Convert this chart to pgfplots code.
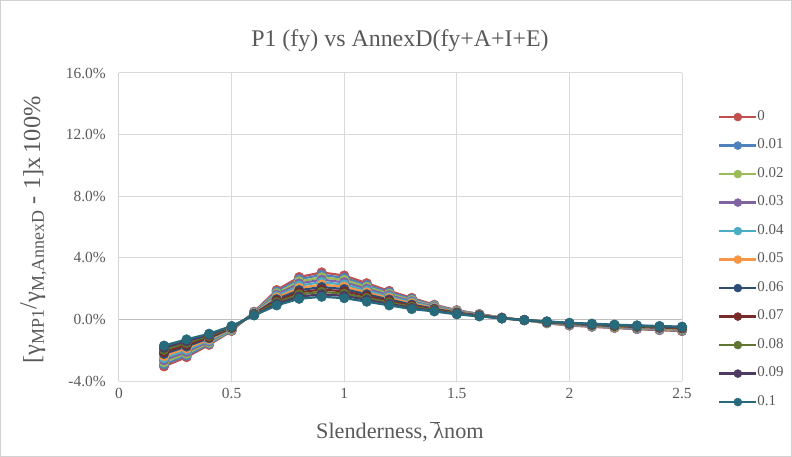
\documentclass[border=0pt]{standalone}
\usepackage{pgfplots}
\pgfplotsset{compat=1.18}
\usepackage{pgfplotstable}
\usepackage{fontspec}
\setmainfont{Liberation Serif}
\definecolor{c0}{HTML}{C0504D}
\definecolor{c1}{HTML}{4F81BD}
\definecolor{c2}{HTML}{9BBB59}
\definecolor{c3}{HTML}{8064A2}
\definecolor{c4}{HTML}{4BACC6}
\definecolor{c5}{HTML}{F79646}
\definecolor{c6}{HTML}{2C4D75}
\definecolor{c7}{HTML}{772C2A}
\definecolor{c8}{HTML}{5F7530}
\definecolor{c9}{HTML}{4D3B62}
\definecolor{c10}{HTML}{276A7C}
\definecolor{txt}{HTML}{595959}
\definecolor{gridc}{HTML}{D9D9D9}
\definecolor{axc}{HTML}{BFBFBF}

\pgfplotstableread{
x s0 s1 s2 s3 s4 s5 s6 s7 s8 s9 s10
0.2 -3.05 -2.92 -2.78 -2.65 -2.51 -2.38 -2.24 -2.11 -1.97 -1.84 -1.70
0.3 -2.45 -2.34 -2.22 -2.11 -1.99 -1.88 -1.76 -1.65 -1.53 -1.42 -1.30
0.4 -1.65 -1.58 -1.51 -1.43 -1.36 -1.29 -1.22 -1.15 -1.07 -1.00 -0.93
0.5 -0.75 -0.72 -0.69 -0.65 -0.62 -0.59 -0.56 -0.53 -0.49 -0.46 -0.43
0.6 0.50 0.48 0.45 0.43 0.40 0.38 0.36 0.33 0.31 0.28 0.26
0.7 1.90 1.80 1.70 1.60 1.50 1.41 1.31 1.21 1.11 1.01 0.91
0.8 2.75 2.61 2.47 2.33 2.19 2.05 1.90 1.76 1.62 1.48 1.34
0.9 3.05 2.89 2.73 2.58 2.42 2.26 2.10 1.94 1.79 1.63 1.47
1.0 2.85 2.70 2.56 2.41 2.26 2.12 1.97 1.82 1.67 1.53 1.38
1.1 2.35 2.23 2.11 1.99 1.87 1.75 1.63 1.51 1.39 1.27 1.15
1.2 1.85 1.76 1.66 1.57 1.47 1.38 1.29 1.19 1.10 1.00 0.91
1.3 1.40 1.33 1.25 1.18 1.11 1.04 0.96 0.89 0.82 0.74 0.67
1.4 0.95 0.91 0.86 0.82 0.78 0.74 0.69 0.65 0.61 0.56 0.52
1.5 0.60 0.57 0.55 0.52 0.49 0.47 0.44 0.41 0.38 0.36 0.33
1.6 0.35 0.34 0.32 0.31 0.29 0.28 0.26 0.25 0.23 0.22 0.20
1.7 0.12 0.11 0.11 0.10 0.10 0.09 0.08 0.08 0.07 0.07 0.06
1.8 -0.05 -0.05 -0.05 -0.05 -0.05 -0.05 -0.04 -0.04 -0.04 -0.04 -0.04
1.9 -0.25 -0.24 -0.23 -0.21 -0.20 -0.19 -0.18 -0.17 -0.15 -0.14 -0.13
2.0 -0.40 -0.38 -0.36 -0.35 -0.33 -0.31 -0.29 -0.27 -0.26 -0.24 -0.22
2.1 -0.48 -0.46 -0.44 -0.42 -0.40 -0.38 -0.36 -0.34 -0.32 -0.30 -0.28
2.2 -0.56 -0.54 -0.52 -0.49 -0.47 -0.45 -0.43 -0.41 -0.38 -0.36 -0.34
2.3 -0.63 -0.61 -0.58 -0.56 -0.53 -0.51 -0.49 -0.46 -0.44 -0.41 -0.39
2.4 -0.70 -0.67 -0.65 -0.62 -0.59 -0.57 -0.54 -0.51 -0.48 -0.46 -0.43
2.5 -0.76 -0.73 -0.70 -0.67 -0.64 -0.62 -0.59 -0.56 -0.53 -0.50 -0.47
}\datatable

\pgfplotsset{ser/.style={#1, line width=2.2bp, mark=*, mark size=4.8bp, line join=round, mark options={solid, fill=#1, draw=#1, line width=0.5bp}}}

\begin{document}
\begin{tikzpicture}
\path[use as bounding box] (-119bp,-76bp) rectangle (673bp,381bp);
\draw[axc!70, line width=1bp] (-118.5bp,-75.5bp) rectangle (672.5bp,380.5bp);
\node[font=\fontsize{24}{26}\selectfont, text=txt] at (281bp,340bp) {P1 (fy) vs AnnexD(fy+A+I+E)};
\begin{axis}[
  at={(0,0)}, anchor=south west,
  scale only axis, width=563bp, height=308bp,
  xmin=0, xmax=2.5, ymin=-4, ymax=16,
  xtick={0,0.5,1,1.5,2,2.5},
  ytick={-4,0,4,8,12,16},
  grid=major, major grid style={draw=gridc, line width=1bp},
  axis line style={draw=none},
  major tick length=0pt,
  /pgf/number format/assume math mode=true,
  ticklabel style={font=\fontsize{15.5}{17}\selectfont, text=txt},
  xticklabel style={anchor=north, inner sep=0pt, yshift=-7bp},
  yticklabel style={anchor=east, inner sep=0pt, xshift=-13bp},
  yticklabel={\pgfmathprintnumber[fixed,fixed zerofill,precision=1]{\tick}\%},
  xlabel={Slenderness, \makebox[0pt][l]{\hspace{-0.14em}\raisebox{0.7em}{\rule{0.42em}{0.07em}}}λnom},
  xlabel style={font=\fontsize{22.3}{24}\selectfont, text=txt, at={(axis description cs:0.499,-0.166)}, anchor=center},
  ylabel={[γ\textsubscript{\fontsize{18}{20}\selectfont MP1}\raisebox{0.15em}{/}γ\textsubscript{\fontsize{18}{20}\selectfont M,AnnexD} - 1]x\,100\%},
  ylabel style={font=\fontsize{24.5}{26}\selectfont, text=txt, at={(axis description cs:-0.152,0.49)}, anchor=center},
  legend cell align=left,
  legend style={at={(axis description cs:1.064,0.877)}, anchor=north west, draw=none, fill=none,
    font=\fontsize{15}{17}\selectfont, text=txt, inner sep=0pt, row sep=16.5bp,
    nodes={inner sep=0pt, text height=9bp, text depth=3bp}},
  legend image code/.code={\draw[mark repeat=2, mark phase=2, #1, mark size=4bp] plot coordinates {(0bp,0bp) (18.5bp,0bp) (37bp,0bp)};},
]
\draw[axc, line width=1bp] (axis cs:0,0) -- (axis cs:2.5,0);
\draw[axc, line width=1bp] (axis cs:0,-4) -- (axis cs:0,16);
\addplot[ser=c0] table[x=x,y=s0]{\datatable}; \addlegendentry{0}
\addplot[ser=c1] table[x=x,y=s1]{\datatable}; \addlegendentry{0.01}
\addplot[ser=c2] table[x=x,y=s2]{\datatable}; \addlegendentry{0.02}
\addplot[ser=c3] table[x=x,y=s3]{\datatable}; \addlegendentry{0.03}
\addplot[ser=c4] table[x=x,y=s4]{\datatable}; \addlegendentry{0.04}
\addplot[ser=c5] table[x=x,y=s5]{\datatable}; \addlegendentry{0.05}
\addplot[ser=c6] table[x=x,y=s6]{\datatable}; \addlegendentry{0.06}
\addplot[ser=c7] table[x=x,y=s7]{\datatable}; \addlegendentry{0.07}
\addplot[ser=c8] table[x=x,y=s8]{\datatable}; \addlegendentry{0.08}
\addplot[ser=c9] table[x=x,y=s9]{\datatable}; \addlegendentry{0.09}
\addplot[ser=c10] table[x=x,y=s10]{\datatable}; \addlegendentry{0.1}
\end{axis}
\end{tikzpicture}
\end{document}
